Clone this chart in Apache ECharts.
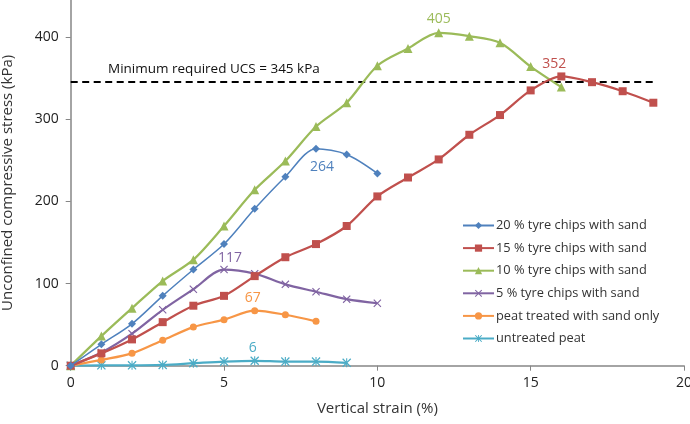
<!DOCTYPE html>
<html>
<head>
<meta charset="utf-8">
<script src="https://cdn.jsdelivr.net/npm/echarts@6/dist/echarts.min.js"></script>
<style>
  html, body { margin: 0; padding: 0; background: #fff; }
  #chart { width: 690px; height: 424px; }
</style>
</head>
<body>
<div id="chart"></div>
<script>
// 应变 0,1,2... (%) 对应的应力值 (kPa)
var tyre20 = [0, 26, 51, 85, 117, 148, 191, 230, 264, 257, 234];
var tyre15 = [0, 15, 32, 53, 73, 85, 109, 132, 148, 170, 206, 229, 251, 281, 305, 335, 352, 345, 334, 320];
var tyre10 = [0, 36, 70, 103, 129, 170, 214, 249, 291, 320, 365, 386, 405, 401, 393, 364, 339];
var tyre5 = [0, 16, 39, 68, 93, 117, 112, 99, 90, 81, 76];
var sandOnly = [0, 7, 15, 31, 47, 56, 67, 62, 54];
var untreated = [0, 0.5, 0.5, 1, 3, 5, 6, 5, 5, 3.5];

var seriesNames = [
    '20 % tyre chips with sand',
    '15 % tyre chips with sand',
    '10 % tyre chips with sand',
    '5 % tyre chips with sand',
    'peat treated with sand only',
    'untreated peat'
];
var peakIndex = [8, 16, 12, 5, 6, 6]; // 峰值标注的位置
var minUCS = 345;
var xTicks = [0, 5, 10, 15, 20];
var yTicks = [0, 100, 200, 300, 400];

var colors = ['#4F81BD', '#C0504D', '#9BBB59', '#8064A2', '#F79646', '#4BACC6'];
var crossPath = 'path://M0,1L1,0L5,4L9,0L10,1L6,5L10,9L9,10L5,6L1,10L0,9L4,5Z';
var starPath = 'path://M0,1L1,0L5,4L9,0L10,1L6,5L10,9L9,10L5,6L1,10L0,9L4,5Z M4.4,0L5.6,0L5.6,10L4.4,10Z';
var symbols = ['diamond', 'rect', 'triangle', crossPath, 'circle', starPath];
var symbolSizes = [8, 8, 9, 8, 7, 9];
var lineWidths = [1.5, 2.25, 2.25, 2.25, 2.25, 2.25];
var labelPos = ['bottom', 'top', 'top', 'top', 'top', 'top'];
var labelOffset = [[6, 3], [-7, 3], [0, 2], [6, 3], [-2, 2], [-2, 3]];

var allData = [tyre20, tyre15, tyre10, tyre5, sandOnly, untreated];

function buildSeries(i) {
    var vals = allData[i];
    var data = vals.map(function (v, k) {
        var item = { value: [k, v] };
        if (k === peakIndex[i]) {
            item.label = {
                show: true,
                position: labelPos[i],
                offset: labelOffset[i],
                distance: 4,
                color: colors[i],
                fontSize: 14,
                fontFamily: 'Open Sans',
                formatter: function (p) { return Math.round(p.value[1]); }
            };
        }
        return item;
    });
    var s = {
        name: seriesNames[i],
        type: 'line',
        data: data,
        smooth: 0.3,
        symbol: symbols[i],
        symbolSize: symbolSizes[i],
        showAllSymbol: true,
        color: colors[i],
        lineStyle: { width: lineWidths[i], color: colors[i] },
        itemStyle: { color: colors[i] },
        z: 10 - i
    };
    if (i === 1) {
        s.markLine = {
            silent: true,
            symbol: 'none',
            label: { show: false },
            lineStyle: { color: '#000', type: [7, 4.5], width: 2 },
            data: [[{ coord: [0, minUCS] }, { coord: [19, minUCS] }]]
        };
    }
    return s;
}

var chart = echarts.init(document.getElementById('chart'));
var option = {
    animation: false,
    backgroundColor: '#fff',
    textStyle: { fontFamily: 'Open Sans' },
    grid: { left: 70.7, right: 6, top: 0, bottom: 58.3, outerBoundsMode: 'none', containLabel: false },
    xAxis: {
        type: 'value',
        min: xTicks[0],
        max: xTicks[xTicks.length - 1],
        interval: 5,
        name: 'Vertical strain (%)',
        nameLocation: 'middle',
        nameGap: 36,
        nameTextStyle: { fontSize: 15, color: '#333' },
        axisLine: { lineStyle: { color: '#868686', width: 1.5 } },
        axisTick: { show: true, inside: false, length: 5, lineStyle: { color: '#868686' } },
        axisLabel: { fontSize: 14, color: '#222', margin: 10 },
        splitLine: { show: false }
    },
    yAxis: {
        type: 'value',
        min: yTicks[0],
        max: 445,
        interval: 100,
        name: 'Unconfined compressive stress (kPa)',
        nameLocation: 'middle',
        nameGap: 55,
        nameTextStyle: { fontSize: 15, color: '#333' },
        axisLine: { show: true, lineStyle: { color: '#868686', width: 1.5 } },
        axisTick: { show: true, inside: false, length: 5, lineStyle: { color: '#868686' } },
        axisLabel: { fontSize: 14, color: '#222', margin: 12, showMaxLabel: false },
        splitLine: { show: false }
    },
    legend: {
        orient: 'vertical',
        left: 462,
        top: 219,
        padding: 0,
        itemWidth: 31,
        itemHeight: 9,
        itemGap: 9.6,
        textStyle: { fontSize: 12.8, color: '#333', padding: [0, 0, 0, -3] },
        data: seriesNames
    },
    graphic: [{
        type: 'text',
        left: 108,
        top: 62,
        style: {
            text: 'Minimum required UCS = 345 kPa',
            fontSize: 13.5,
            fontFamily: 'Open Sans',
            fill: '#111'
        }
    }],
    series: allData.map(function (d, i) { return buildSeries(i); })
};
chart.setOption(option);
</script>
</body>
</html>
